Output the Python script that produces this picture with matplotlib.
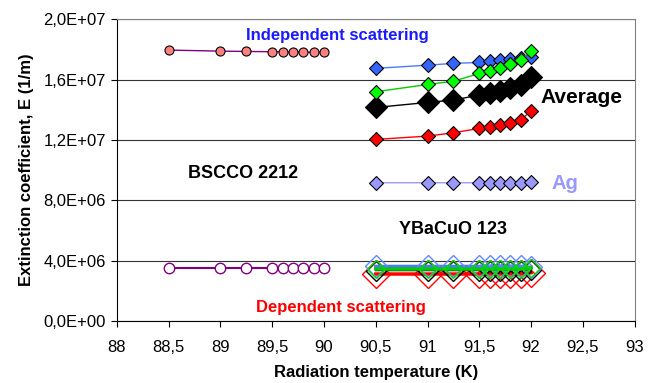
import matplotlib
matplotlib.use("Agg")
import matplotlib.pyplot as plt
from matplotlib.ticker import FuncFormatter, MultipleLocator

plt.rcParams['font.family'] = ['Liberation Sans', 'DejaVu Sans']

# temperaturas (K)
t_bscco = [88.5, 89, 89.25, 89.5, 89.6, 89.7, 89.8, 89.9, 90.0]
t_diam = [90.5, 91, 91.25, 91.5, 91.6, 91.7, 91.8, 91.9, 92.0]

# BSCCO 2212 (circulos)
bscco_top = [1.795e7, 1.788e7, 1.786e7, 1.784e7, 1.783e7, 1.782e7, 1.781e7, 1.780e7, 1.780e7]
bscco_bot = [3.52e6, 3.52e6, 3.52e6, 3.52e6, 3.52e6, 3.52e6, 3.52e6, 3.52e6, 3.52e6]

# Ag (losangos cheios)
indep = [1.674e7, 1.695e7, 1.707e7, 1.713e7, 1.722e7, 1.728e7, 1.735e7, 1.740e7, 1.746e7]
green = [1.519e7, 1.567e7, 1.589e7, 1.640e7, 1.656e7, 1.678e7, 1.700e7, 1.728e7, 1.788e7]
average = [1.415e7, 1.448e7, 1.464e7, 1.497e7, 1.508e7, 1.525e7, 1.541e7, 1.563e7, 1.618e7]
dep = [1.203e7, 1.225e7, 1.247e7, 1.276e7, 1.287e7, 1.298e7, 1.310e7, 1.331e7, 1.393e7]
ag = [9.16e6, 9.16e6, 9.16e6, 9.16e6, 9.16e6, 9.16e6, 9.16e6, 9.16e6, 9.18e6]

# YBaCuO 123 (losangos vazios)
y_indep = [3.61e6, 3.61e6, 3.61e6, 3.61e6, 3.61e6, 3.61e6, 3.61e6, 3.61e6, 3.55e6]
y_green = [3.44e6, 3.44e6, 3.44e6, 3.44e6, 3.44e6, 3.44e6, 3.44e6, 3.44e6, 3.52e6]
y_avg = [3.34e6, 3.34e6, 3.34e6, 3.34e6, 3.34e6, 3.34e6, 3.34e6, 3.34e6, 3.40e6]
y_dep = [3.11e6, 3.11e6, 3.11e6, 3.11e6, 3.11e6, 3.11e6, 3.11e6, 3.11e6, 3.20e6]

fig = plt.figure(figsize=(6.57, 3.83), dpi=100)
ax = fig.add_axes([0.178, 0.162, 0.788, 0.788])

ax.plot(t_bscco, bscco_top, color='#800080', lw=1, marker='o', ms=6.5,
        mfc='#ff8080', mec='black', mew=0.8)
ax.plot(t_bscco, bscco_bot, color='#800080', lw=1.5, marker='o', ms=7.5,
        mfc='white', mec='#800080', mew=1)

ax.plot(t_diam, ag, color='#9999ff', lw=1, marker='D', ms=7.5, mfc='#9999ff', mec='black', mew=0.8)
ax.plot(t_diam, dep, color='red', lw=1, marker='D', ms=7, mfc='red', mec='black', mew=0.8)
ax.plot(t_diam, average, color='black', lw=1, marker='D', ms=11, mfc='black', mec='black', mew=0.8)
ax.plot(t_diam, indep, color='#4d79ff', lw=1, marker='D', ms=7, mfc='#3366ff', mec='black', mew=0.8)
ax.plot(t_diam, green, color='#00cc00', lw=1, marker='D', ms=7, mfc='#00ff00', mec='black', mew=0.8)

ax.plot(t_diam, y_dep, color='red', lw=2.5, marker='D', ms=14, mfc='none', mec='red', mew=1)
ax.plot(t_diam, y_avg, color='black', lw=1, marker='D', ms=10.5, mfc='none', mec='black', mew=1)
ax.plot(t_diam, y_indep, color='#4d79ff', lw=2.5, marker='D', ms=11.5, mfc='none', mec='#6688ff', mew=1)
ax.plot(t_diam, y_green, color='#00cc00', lw=2.5, marker='D', ms=9, mfc='none', mec='#00dd00', mew=1)

ax.set_xlim(88, 93)
ax.set_ylim(0, 2.0e7)
ax.xaxis.set_major_locator(MultipleLocator(0.5))
ax.yaxis.set_major_locator(MultipleLocator(4.0e6))


def fmt_x(v, pos):
    return ('%g' % v).replace('.', ',')


def fmt_y(v, pos):
    return ('%.1E' % v).replace('.', ',')


ax.xaxis.set_major_formatter(FuncFormatter(fmt_x))
ax.yaxis.set_major_formatter(FuncFormatter(fmt_y))
ax.tick_params(labelsize=12, direction='out', length=4, width=0.8, color='black')
ax.tick_params(axis='x', pad=10)
ax.tick_params(axis='y', pad=4)
ax.grid(axis='y', color='#333333', lw=0.8)
ax.set_axisbelow(True)
ax.spines['top'].set_color('#808080')
ax.spines['right'].set_color('#808080')

ax.set_xlabel('Radiation temperature (K)', fontsize=12, fontweight='bold')
ax.set_ylabel('Extinction coefficient, E (1/m)', fontsize=12, fontweight='bold')
ax.xaxis.set_label_coords(0.5, -0.145)
ax.yaxis.set_label_coords(-0.16, 0.5)

ax.text(90.13, 1.894e7, 'Independent scattering', color='#1a1aff', fontsize=12,
        fontweight='bold', ha='center', va='center')
ax.text(92.49, 1.483e7, 'Average', color='black', fontsize=15, fontweight='bold',
        ha='center', va='center')
ax.text(89.22, 9.74e6, 'BSCCO 2212', color='black', fontsize=13, fontweight='bold',
        ha='center', va='center')
ax.text(92.33, 9.14e6, 'Ag', color='#9999ff', fontsize=14.5, fontweight='bold',
        ha='center', va='center')
ax.text(91.25, 6.03e6, 'YBaCuO 123', color='black', fontsize=13, fontweight='bold',
        ha='center', va='center')
ax.text(90.16, 8.6e5, 'Dependent scattering', color='red', fontsize=12, fontweight='bold',
        ha='center', va='center')

fig.savefig('out.png', dpi=100)
